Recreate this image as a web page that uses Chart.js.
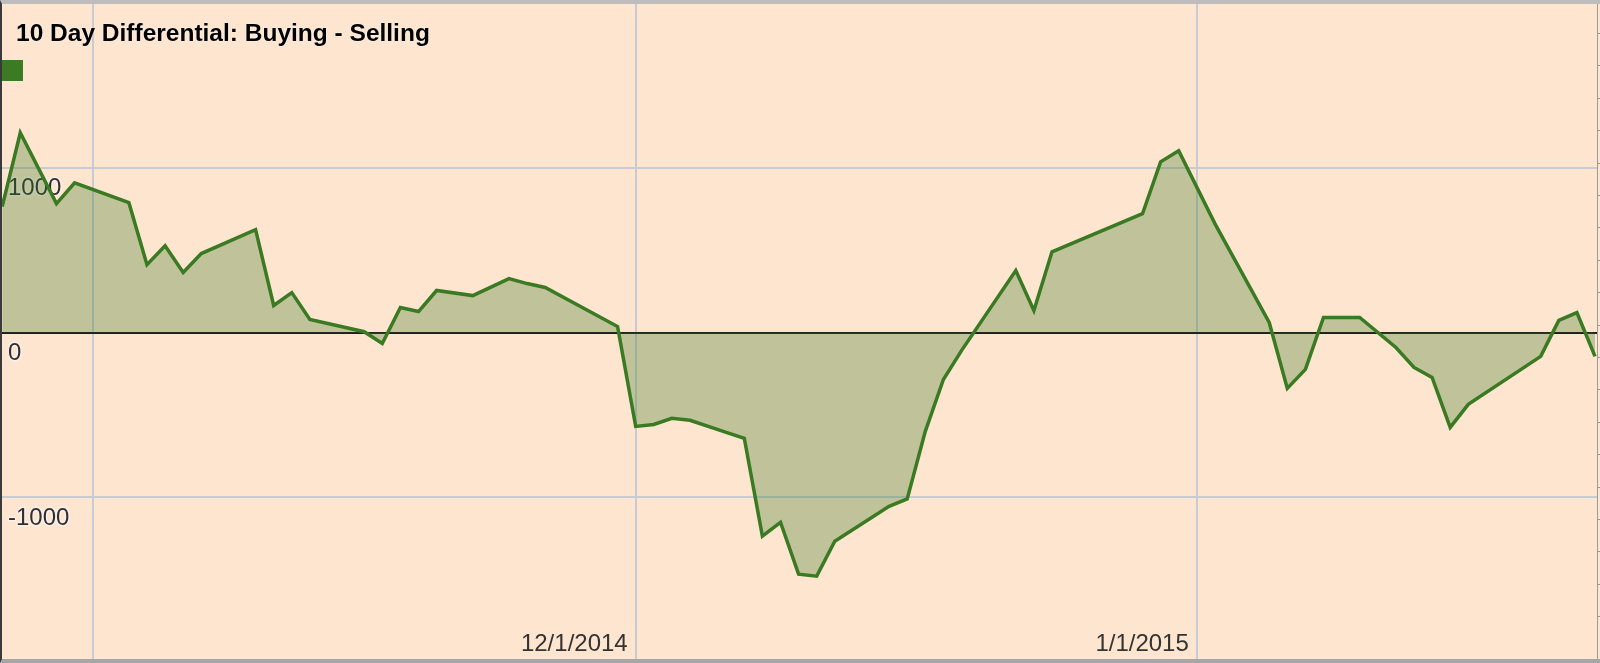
<!DOCTYPE html>
<html lang="en">
<head>
  <meta charset="UTF-8">
  <title>10 Day Differential: Buying - Selling</title>
  <script src="https://cdn.jsdelivr.net/npm/chart.js"></script>
  <style>
    body {
      margin: 0;
      background: #fde5cf;
      overflow: hidden;
    }

    .frame {
      position: relative;
      width: 1600px;
      height: 663px;
      overflow: hidden;
      background: #fde5cf;
      font-family: "Liberation Sans", Arial, sans-serif;
    }

    #chart {
      position: absolute;
      left: -10px;
      top: 3px;
    }

    .border {
      position: absolute;
      left: 0;
      top: 0;
      width: 1600px;
      height: 663px;
      box-sizing: border-box;
      border-top: 4px solid #bdbdbd;
      border-left: 2px solid #3a3a3a;
      border-bottom: 4px solid #a6a6a6;
      pointer-events: none;
    }

    .title {
      position: absolute;
      left: 16px;
      top: 21px;
      font-size: 24.5px;
      line-height: 24.5px;
      font-weight: bold;
      color: #000;
      white-space: nowrap;
      text-shadow: 0 0 2px rgba(255, 255, 255, 0.9);
    }

    .swatch {
      position: absolute;
      left: 2px;
      top: 60px;
      width: 21px;
      height: 21px;
      background: #3c7a24;
    }
  </style>
</head>
<body>
  <div class="frame">
    <canvas id="chart" width="1611" height="665"></canvas>
    <div class="title">10 Day Differential: Buying - Selling</div>
    <div class="swatch"></div>
    <div class="border"></div>
  </div>

  <script>
    // x = days counted from 12/1/2014
    const dayOffsets = [
      -35, -34, -32, -31, -28, -27, -26, -25, -24, -21,
      -20, -19, -18, -15, -14, -13, -12, -11, -9, -7,
      -6, -5, -1, 0, 1, 2, 3, 5, 6, 7,
      8, 9, 10, 11, 14, 15, 16, 17, 18, 21,
      22, 23, 28, 29, 30, 32, 35, 36, 37, 38,
      40, 42, 43, 44, 45, 46, 50, 51, 52, 53
    ];
    const diffValues = [
      764, 1212, 782, 909, 788, 412, 527, 364, 479, 624,
      164, 242, 79, 5, -67, 152, 127, 255, 224, 327,
      297, 273, 36, -570, -558, -521, -533, -606, -642, -1236,
      -1152, -1467, -1479, -1267, -1055, -1010, -600, -285, -110, 376,
      133, 490, 721, 1036, 1103, 661, 61, -339, -224, 91,
      91, -91, -212, -273, -576, -436, -145, 73, 121, -145
    ];

    const xTickDays = [-30, 0, 31];
    const xTickLabels = ['', '12/1/2014', '1/1/2015'];
    const yTickValues = [-1000, 0, 1000];

    const lineColor = '#3a7a22';
    const gridColor = '#c6ccd1';
    const points = dayOffsets.map((d, i) => ({ x: d, y: diffValues[i] }));

    new Chart(document.getElementById('chart'), {
      type: 'line',
      data: {
        datasets: [{
          label: '10 Day Differential',
          data: points,
          borderColor: lineColor,
          borderWidth: 3.5,
          backgroundColor: 'rgba(58, 120, 34, 0.31)',
          fill: 'origin',
          pointRadius: 0,
          tension: 0
        }]
      },
      options: {
        responsive: false,
        animation: false,
        layout: { padding: 0 },
        plugins: {
          legend: { display: false },
          title: { display: false },
          tooltip: { enabled: false }
        },
        scales: {
          x: {
            type: 'linear',
            min: -35.01,
            max: 53.11,
            afterBuildTicks: (scale) => {
              scale.ticks = xTickDays.map(v => ({ value: v }));
            },
            grid: { color: gridColor, lineWidth: 2, drawTicks: false },
            border: { display: false },
            ticks: {
              mirror: true,
              padding: 3,
              align: 'end',
              labelOffset: -8,
              maxRotation: 0,
              autoSkip: false,
              color: '#333',
              font: { family: '"Liberation Sans", Arial, sans-serif', size: 24 },
              callback: (value, index) => xTickLabels[index]
            }
          },
          y: {
            min: -2000,
            max: 2000,
            afterBuildTicks: (scale) => {
              scale.ticks = yTickValues.map(v => ({ value: v }));
            },
            afterFit: (scale) => {
              scale.paddingTop = 0;
              scale.paddingBottom = 0;
            },
            grid: {
              color: (c) => (c.tick && c.tick.value === 0 ? '#1e1e1e' : gridColor),
              lineWidth: 2,
              drawTicks: false
            },
            border: { display: false },
            ticks: {
              mirror: true,
              padding: 6,
              labelOffset: 21,
              color: '#2e2e36',
              font: { family: '"Liberation Sans", Arial, sans-serif', size: 24 },
              textStrokeColor: 'rgba(253, 240, 228, 0.9)',
              textStrokeWidth: 3,
              callback: (value) => String(value)
            }
          },
          y2: {
            position: 'right',
            min: 0.6,
            max: 20.94,
            grid: { drawOnChartArea: false, drawTicks: true, tickLength: 4, color: '#9a9a9a', lineWidth: 1 },
            border: { display: true, color: '#9a9a9a', width: 1 },
            ticks: { display: false, stepSize: 1 }
          }
        }
      }
    });
  </script>
</body>
</html>
